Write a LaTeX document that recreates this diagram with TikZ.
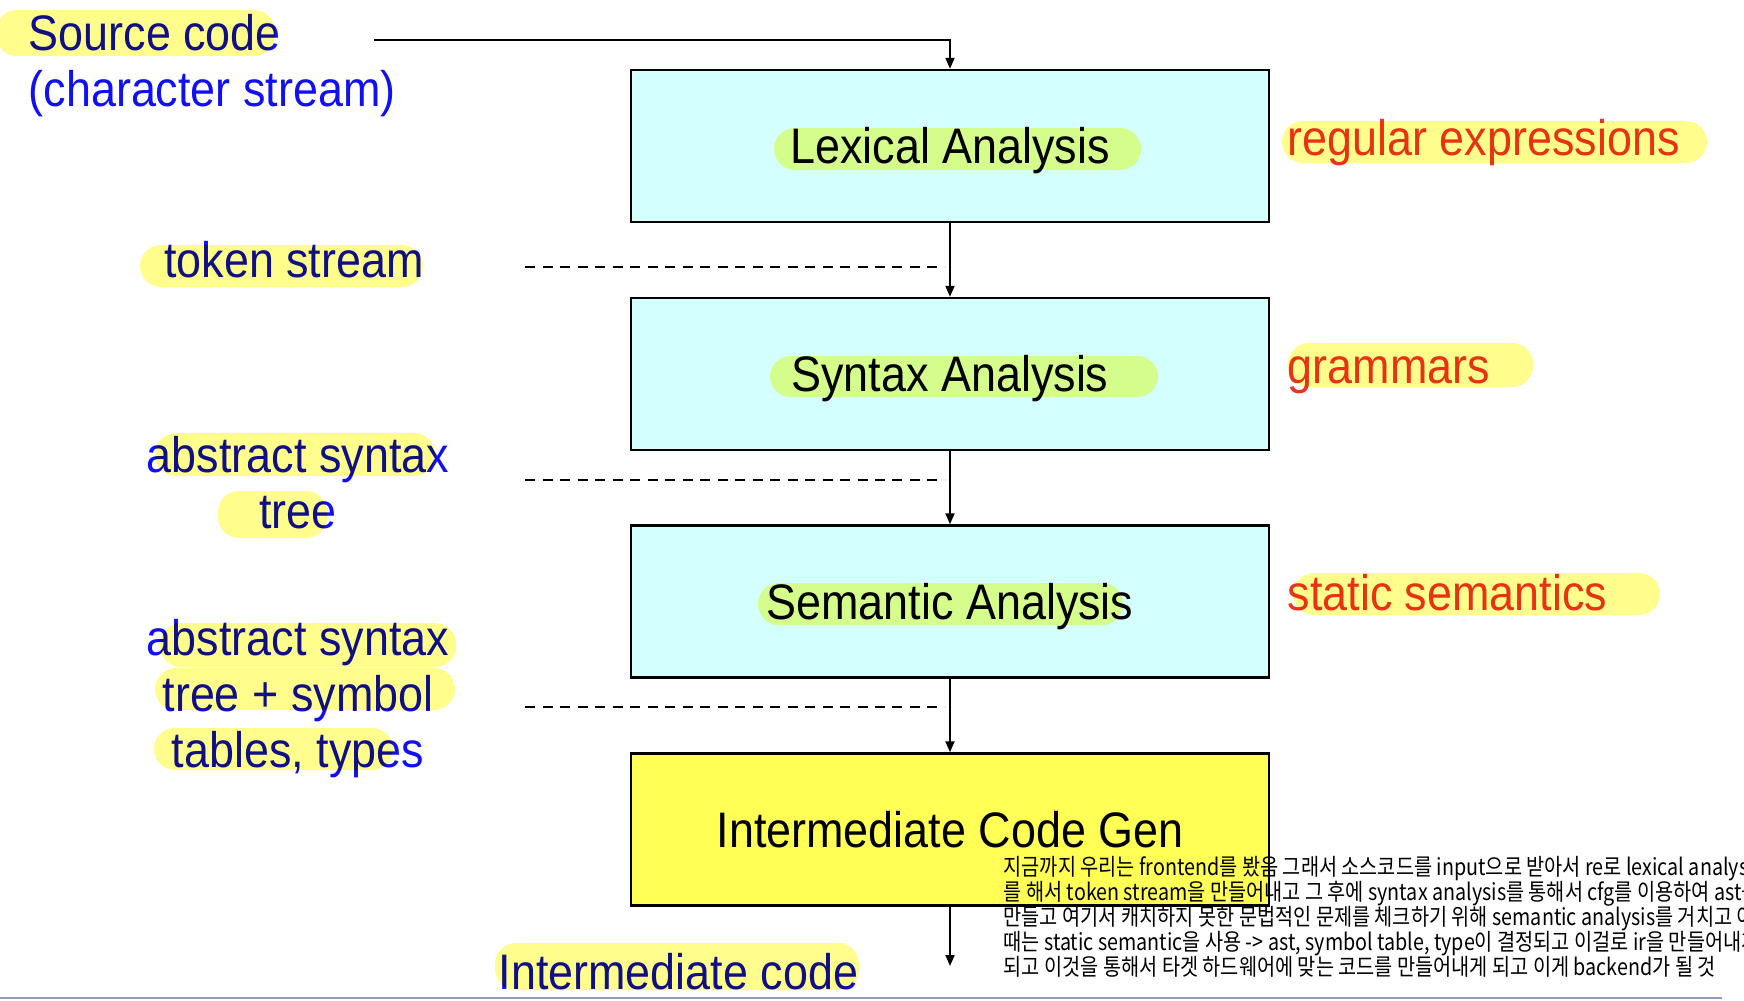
\documentclass[tikz,border=0pt]{standalone}
\usepackage{fontspec}
\setmainfont{Liberation Sans}[FakeStretch=0.9]
\newfontfamily\korfont{Noto Sans CJK KR}[FakeStretch=0.85]
\newcommand\memofont{\korfont\fontsize{6.6pt}{7.1pt}\selectfont\lineskiplimit=-10pt\relax}
\usetikzlibrary{arrows.meta}

\definecolor{penblue}{RGB}{16,16,240}
\definecolor{penred}{RGB}{232,52,36}
\definecolor{marker}{RGB}{255,253,140}
\definecolor{boxcyan}{RGB}{212,255,255}
\definecolor{boxyellow}{RGB}{255,255,85}
\definecolor{rulegray}{RGB}{150,150,190}

\begin{document}
\begin{tikzpicture}[x=0.1mm, y=-0.1mm,
  font=\fontsize{14.2pt}{15.8pt}\selectfont,
  phase/.style={draw=black, line width=0.7pt, fill=boxcyan, minimum width=63.8mm, minimum height=15.2mm,
                inner sep=0pt, text height=3.58mm, text depth=0pt},
  note/.style={inner sep=0pt, anchor=base west, text=penblue},
  rule/.style={inner sep=0pt, anchor=base west, text=penred},
  flow/.style={draw=black, line width=0.55pt, -{Triangle[length=1.1mm, width=0.9mm]}},
  guide/.style={draw=black, line width=0.55pt, dash pattern=on 1mm off 0.75mm},
  hilite/.style={fill=marker, rounded corners=2.1mm}
]
\useasboundingbox (0,0) rectangle (1744,1000);

% pipeline
\node[phase] (lex) at (950,146) {Lexical Analysis};
\node[phase] (syn) at (950,374) {Syntax Analysis};
\node[phase] (sem) at (950,601.5) {Semantic Analysis};
\node[phase, fill=boxyellow] (icg) at (950,829.5) {Intermediate Code Gen};

\coordinate (srcend) at (374,40);
\coordinate (irend) at (950,966);
\draw[flow] (srcend) -| (lex.north);
\draw[flow] (lex) -- (syn);
\draw[flow] (syn) -- (sem);
\draw[flow] (sem) -- (icg);
\draw[flow] (icg) -- (irend);

% what flows between the phases (base = last line)
\node[note, align=left] (src) at (28,106) {Source code\\(character stream)};
\node[note, anchor=base] (tok) at (294,277) {token stream};
\node[note, anchor=base, align=center] (ast) at (298,528) {abstract syntax\\tree};
\node[note, anchor=base, align=center] (sym) at (298,767) {abstract syntax\\tree + symbol\\tables, types};
\node[note] (ir) at (498,989) {Intermediate code};

\coordinate (tokl) at (525,267);   \coordinate (tokr) at (945,267);
\coordinate (astl) at (525,480);   \coordinate (astr) at (945,480);
\coordinate (syml) at (525,707);   \coordinate (symr) at (945,707);
\draw[guide] (tokl) -- (tokr);
\draw[guide] (astl) -- (astr);
\draw[guide] (syml) -- (symr);

% formalisms
\node[rule] (rex) at (1287,155) {regular expressions};
\node[rule] (gram) at (1287,383) {grammars};
\node[rule] (stat) at (1287,610) {static semantics};

% memo
\node[inner sep=0pt, anchor=base west, align=left, font=\memofont] (memo) at (1003,975)
  {지금까지 우리는 frontend를 봤음 그래서 소스코드를 input으로 받아서 re로 lexical analysis\\
   를 해서 token stream을 만들어내고 그 후에 syntax analysis를 통해서 cfg를 이용하여 ast를\\
   만들고 여기서 캐치하지 못한 문법적인 문제를 체크하기 위해 semantic analysis를 거치고 이\\
   때는 static semantic을 사용 -> ast, symbol table, type이 결정되고 이걸로 ir을 만들어내게\\
   되고 이것을 통해서 타겟 하드웨어에 맞는 코드를 만들어내게 되고 이게 backend가 될 것};

\draw[rulegray, line width=0.55pt] (0,998) -- (1722,998);

% marker strokes
\begin{scope}[blend mode=multiply]
\fill[hilite] (-4,10) rectangle (275,56);
\fill[hilite] (140,245) rectangle (423,287);
\fill[hilite] (155,433) rectangle (435,476);
\fill[hilite] (218,491) rectangle (327,538);
\fill[hilite] (160,623) rectangle (456,667);
\fill[hilite] (155,668) rectangle (455,710);
\fill[hilite] (154,728) rectangle (393,770);
\fill[hilite] (495,943) rectangle (859,990);
\fill[hilite] (774,128) rectangle (1141,170);
\fill[hilite] (770,356) rectangle (1158,397);
\fill[hilite] (758,583) rectangle (1123,625);
\fill[hilite] (1282,121) rectangle (1707,163);
\fill[hilite] (1288,343) rectangle (1533,387);
\fill[hilite] (1293,573) rectangle (1660,615);
\end{scope}
\end{tikzpicture}
\end{document}
